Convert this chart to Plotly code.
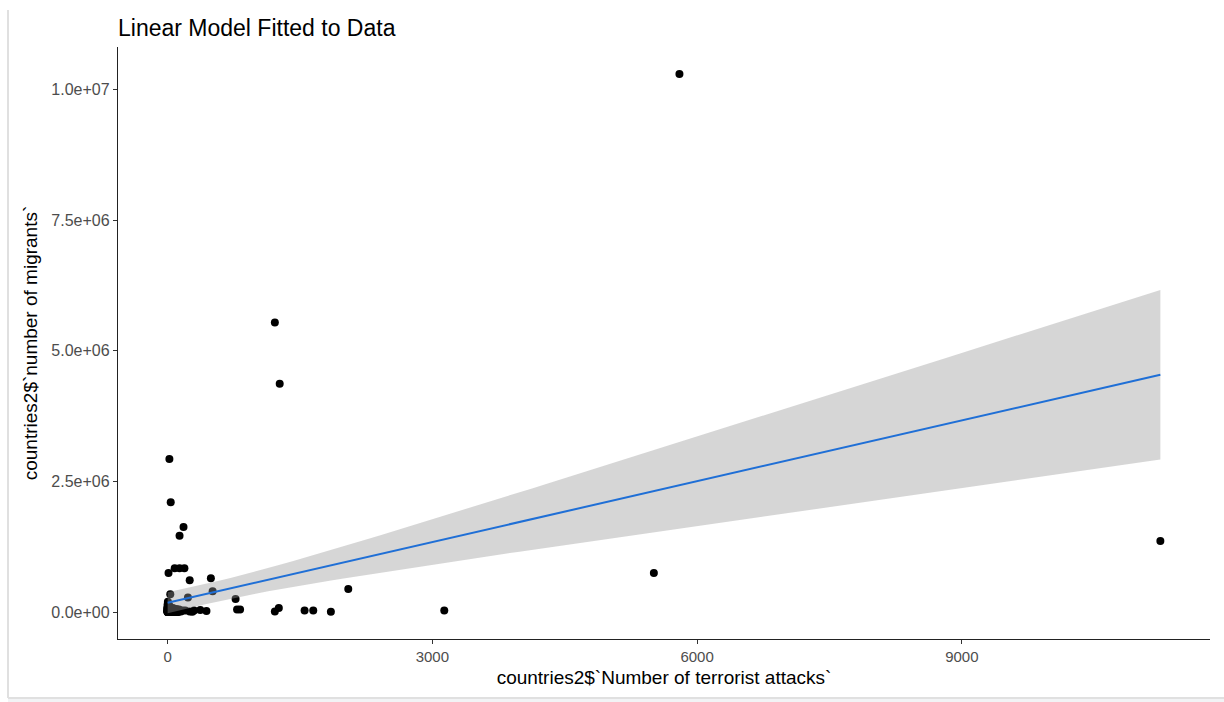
import numpy as np
import plotly.graph_objects as go

# Terrorist attacks vs. number of migrants, one point per country
attacks = [
    5800, 1215, 1270, 5510, 11250, 20, 35, 180, 135, 80, 135, 190, 10, 490,
    250, 30, 230, 510, 770, 2047, 200, 300, 370, 440, 787, 821, 1215, 1260,
    1552, 1650, 1850, 3135,
    0, 5, 10, 0, 15, 30, 50, 70, 90, 110, 130, 150, 170, 3, 8, 20, 60, 2,
    40, 100, 250, 280, 0, 12, 25,
    0, 0, 0, 0, 0, 0, 0, 0, 1, 1, 1, 2, 2, 2, 3, 3, 4, 4, 5, 5,
    6, 7, 8, 9, 10, 11, 12, 13, 14, 15, 16, 18, 20, 22, 24, 26, 28, 30,
    33, 36, 40, 44, 48, 52, 56, 60, 65, 70, 75, 80, 85, 90, 95, 100, 110, 120,
    0, 0, 1, 3, 6, 2, 4, 0,
]
migrants = [
    10300000, 5540000, 4370000, 750000, 1360000, 2930000, 2100000, 1630000,
    1460000, 840000, 840000, 840000, 750000, 650000, 610000, 340000, 280000,
    400000, 250000, 440000, 30000, 30000, 40000, 20000, 50000, 50000, 10000,
    80000, 30000, 30000, 5000, 30000,
    150000, 100000, 60000, 20000, 0, 40000, 10000, 30000, 5000, 20000, 50000,
    10000, 30000, 200000, 5000, 120000, 80000, 50000, 15000, 60000, 10000,
    5000, 0, 30000, 70000,
    5000, 12000, 25000, 48000, 90000, 100000, 3000, 70000, 8000, 30000, 20000,
    15000, 55000, 2000, 20000, 30000, 6000, 40000, 10000, 85000,
    25000, 4000, 60000, 15000, 35000, 2000, 22000, 9000, 45000, 3000, 18000,
    7000, 28000, 5000, 12000, 3000, 16000, 6000,
    9000, 2000, 11000, 4000, 7000, 3000, 5000, 8000, 2000, 6000, 3000, 4000,
    2000, 5000, 3000, 2000, 4000, 3000,
    60000, 65000, 100000, 50000, 40000, 75000, 26000, 1000,
]

title_text = "Linear Model Fitted to Data"
x_title = "countries2$`Number of terrorist attacks`"
y_title = "countries2$`number of migrants`"
x_ticks = [0, 3000, 6000, 9000]
y_ticks = [0, 2.5e6, 5e6, 7.5e6, 1e7]
y_tick_labels = ["0.0e+00", "2.5e+06", "5.0e+06", "7.5e+06", "1.0e+07"]

# Ordinary least squares fit with a 95% confidence band (as geom_smooth(method="lm"))
x = np.asarray(attacks, dtype=float)
y = np.asarray(migrants, dtype=float)
n = len(x)
slope, intercept = np.polyfit(x, y, 1)
resid = y - (intercept + slope * x)
s = np.sqrt(np.sum(resid ** 2) / (n - 2))
xbar = x.mean()
sxx = np.sum((x - xbar) ** 2)
T975 = 1.981  # t quantile, df ~ 119

xs = np.linspace(x.min(), x.max(), 80)
fit = intercept + slope * xs
se = s * np.sqrt(1.0 / n + (xs - xbar) ** 2 / sxx)
upper = fit + T975 * se
lower = fit - T975 * se

fig = go.Figure()
fig.add_trace(go.Scatter(
    x=attacks, y=migrants, mode="markers",
    marker=dict(color="black", size=8), hoverinfo="x+y", showlegend=False,
))
fig.add_trace(go.Scatter(
    x=np.concatenate([xs, xs[::-1]]), y=np.concatenate([upper, lower[::-1]]),
    mode="lines", fill="toself", fillcolor="rgba(153,153,153,0.4)",
    line=dict(width=0), hoverinfo="skip", showlegend=False,
))
fig.add_trace(go.Scatter(
    x=xs, y=fit, mode="lines", line=dict(color="#1f6fd6", width=2),
    showlegend=False,
))

FONT = "Liberation Sans, Arial"
xr = x.max() - x.min()
yr = y.max() - y.min()
axis_common = dict(
    showgrid=False, zeroline=False, showline=True, linecolor="#222222",
    linewidth=1.3, ticks="outside", ticklen=4, tickcolor="#333333",
)

# Light page frame: left edge and bottom edge with a faint strip beneath it
PW, PH = 1092, 592  # plot area size in px
frame = [
    dict(type="line", xref="paper", yref="paper",
         x0=-110 / PW, x1=-110 / PW, y0=-59 / PH, y1=629 / PH,
         line=dict(color="#e0e0e0", width=2), layer="below"),
    dict(type="rect", xref="paper", yref="paper",
         x0=-110 / PW, x1=1.03, y0=-64 / PH, y1=-59 / PH,
         line=dict(width=0), fillcolor="#f2f3f5", layer="below"),
    dict(type="line", xref="paper", yref="paper",
         x0=-110 / PW, x1=1.03, y0=-59 / PH, y1=-59 / PH,
         line=dict(color="#e0e0e0", width=2), layer="below"),
]

fig.update_layout(
    width=1224, height=702,
    paper_bgcolor="white", plot_bgcolor="white",
    margin=dict(l=118, r=14, t=47, b=63),
    title=dict(text=title_text, x=118 / 1224, xanchor="left",
               y=1 - 28 / 702, yanchor="middle",
               font=dict(family=FONT, size=23, color="black")),
    xaxis=dict(range=[x.min() - 0.05 * xr, x.max() + 0.05 * xr],
               tickvals=x_ticks, ticktext=[str(v) for v in x_ticks],
               tickfont=dict(family=FONT, size=15, color="#4d4d4d"),
               title=dict(text=x_title, standoff=6,
                          font=dict(family=FONT, size=19, color="black")),
               **axis_common),
    yaxis=dict(range=[y.min() - 0.05 * yr, y.max() + 0.05 * yr],
               tickvals=y_ticks, ticktext=y_tick_labels,
               tickfont=dict(family=FONT, size=16, color="#4d4d4d"),
               title=dict(text=y_title, standoff=8,
                          font=dict(family=FONT, size=19, color="black")),
               **axis_common),
    shapes=frame,
)

fig.write_html("out.html")
